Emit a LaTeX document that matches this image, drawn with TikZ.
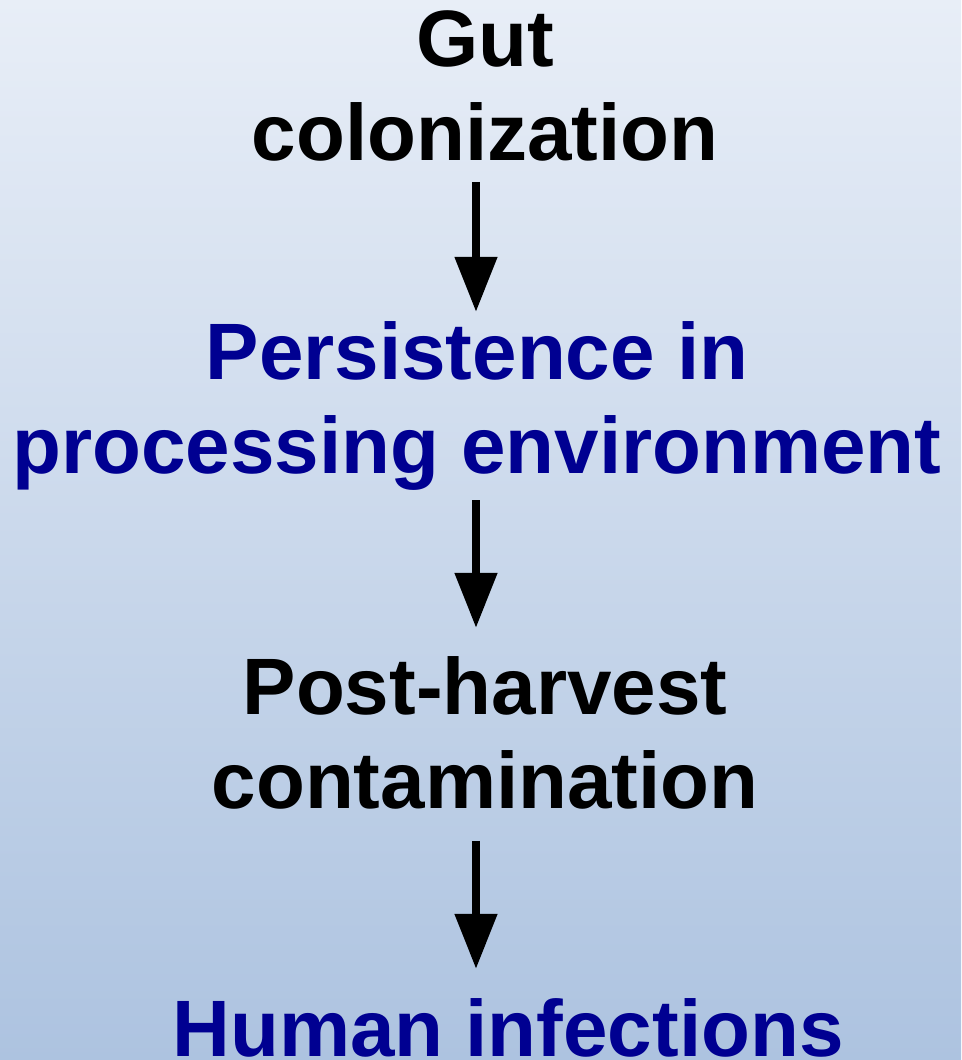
\documentclass[tikz,border=0pt]{standalone}
\usepackage{fontspec}
\setmainfont{Liberation Sans}
\usepackage{tikz}
\usetikzlibrary{positioning}
\usetikzlibrary{arrows.meta}

\definecolor{bgtop}{RGB}{232,238,247}
\definecolor{bgbottom}{RGB}{173,195,224}
\definecolor{stepblue}{RGB}{0,0,145}

\begin{document}
\begin{tikzpicture}[x=1pt, y=-1pt,
                          stagenode/.style={inner sep=0pt, align=center, anchor=base, font=\fontsize{80}{94}\selectfont\bfseries},
                          bluenode/.style={stagenode, text=stepblue},
                          blacknode/.style={stagenode, text=black},
                          flow/.style={line width=8pt, -{Triangle[length=55pt, width=41pt]}},
                      ]
                      %Background
                      \useasboundingbox (0,0) rectangle (961,1060);
                      \shade[top color=bgtop, bottom color=bgbottom] (0,0) rectangle (961,1060);

                      %Nodes
                      \coordinate (axis) at (476,0);
                      \node[blacknode]   (gut)      at (485,160)    {Gut\\colonization};
                      \node[bluenode]    (persist)  at (477,473)    {Persistence in\\processing environment};
                      \node[blacknode]   (post)     at (485,808)    {Post-harvest\\contamination};
                      \node[bluenode]    (human)    at (508,1056)   {Human infections};

                      %Lines
                      \draw[flow, shorten <=21pt, shorten >=9pt]  (gut.south -| axis) -- (persist.north -| axis);
                      \draw[flow, shorten <=10pt, shorten >=28pt] (persist.south -| axis) -- (post.north -| axis);
                      \draw[flow, shorten <=32pt, shorten >=29pt] (post.south -| axis) -- (human.north -| axis);
                  \end{tikzpicture}
\end{document}
